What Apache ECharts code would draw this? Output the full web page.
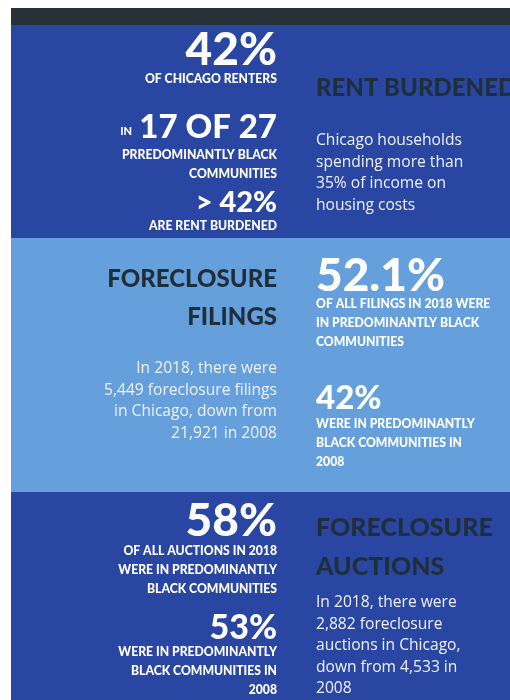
<!DOCTYPE html>
<html>
<head>
<meta charset="utf-8">
<script src="https://cdn.jsdelivr.net/npm/echarts@6/dist/echarts.min.js"></script>
<style>
  html, body { margin: 0; padding: 0; background: #fff; }
  #chart { width: 510px; height: 700px; }
</style>
</head>
<body>
<div id="chart"></div>
<script>
// figures shown in the infographic
const sectionTitles = ["RENT BURDENED", "FORECLOSURE\nFILINGS", "FORECLOSURE\nAUCTIONS"];
const renterShare = [42];            // % of Chicago renters
const communityCount = [17, 27];     // 17 of 27 communities
const communityShare = [42];         // > 42% rent burdened
const filingShare = [52.1, 42];      // 2018, 2008
const filingCounts = [5449, 21921];  // 2018, 2008
const auctionShare = [58, 53];       // 2018, 2008
const auctionCounts = [2882, 4533];  // 2018, 2008
const rentThreshold = [35];          // % of income

const fmt = n => n.toLocaleString("en-US");

const DARK = "#263238";
const BLUE = "#2a46a3";
const LIGHT = "#66a0dc";
const HEAD = "#1f2f3a";
const HEAVY = "Lato";
const BODY = "'Open Sans'";

const L = 277, R = 316;

function t(text, x, y, size, opts) {
  opts = opts || {};
  return {
    type: "text",
    z: 10,
    style: {
      text: text,
      x: x,
      y: y,
      fill: opts.color || "#fff",
      font: (opts.weight || 900) + " " + size + "px " + (opts.family || HEAVY),
      textAlign: opts.align || "right",
      textVerticalAlign: "middle",
      lineHeight: opts.lh
    }
  };
}
function body(text, x, y, align) {
  return t(text, x, y, 15.6, { weight: 400, family: BODY, color: "#eef1f8", align: align, lh: 21.5 });
}
function small(text, x, y, align) {
  return t(text, x, y, 12.2, { weight: 900, align: align, lh: 19 });
}

const chart = echarts.init(document.getElementById("chart"));
const elements = [
  { type: "rect", shape: { x: 11, y: 8, width: 499, height: 17 }, style: { fill: DARK } },
  { type: "rect", shape: { x: 11, y: 25, width: 499, height: 213 }, style: { fill: BLUE } },
  { type: "rect", shape: { x: 11, y: 238, width: 499, height: 254 }, style: { fill: LIGHT } },
  { type: "rect", shape: { x: 11, y: 492, width: 499, height: 208 }, style: { fill: BLUE } },

  // band 1
  t(renterShare[0] + "%", L, 50, 46),
  small("OF CHICAGO RENTERS", L, 79),
  t("IN", 132, 131, 11),
  t(communityCount[0] + " OF " + communityCount[1], L, 127, 33),
  small("PRREDOMINANTLY BLACK\nCOMMUNITIES", L, 165),
  t("> " + communityShare[0] + "%", L, 203, 29),
  small("ARE RENT BURDENED", L, 226),
  t(sectionTitles[0], R, 88, 24, { color: HEAD, align: "left" }),
  body("Chicago households\nspending more than\n" + rentThreshold[0] + "% of income on\nhousing costs", R, 173, "left"),

  // band 2
  t(sectionTitles[1], L, 298, 24, { color: HEAD, lh: 38 }),
  body("In 2018, there were\n" + fmt(filingCounts[0]) + " foreclosure filings\nin Chicago, down from\n" + fmt(filingCounts[1]) + " in 2008", L, 401, "right"),
  t(filingShare[0] + "%", R, 276, 46, { align: "left" }),
  small("OF ALL FILINGS IN 2018 WERE\nIN PREDOMINANTLY BLACK\nCOMMUNITIES", R, 323, "left"),
  t(filingShare[1] + "%", R, 398, 33, { align: "left" }),
  small("WERE IN PREDOMINANTLY\nBLACK COMMUNITIES IN\n2008", R, 443, "left"),

  // band 3
  t(auctionShare[0] + "%", L, 521, 46),
  small("OF ALL AUCTIONS IN 2018\nWERE IN PREDOMINANTLY\nBLACK COMMUNITIES", L, 570),
  t(auctionShare[1] + "%", L, 628, 34),
  small("WERE IN PREDOMINANTLY\nBLACK COMMUNITIES IN\n2008", L, 671),
  t(sectionTitles[2], R, 547, 25, { color: HEAD, align: "left", lh: 39 }),
  body("In 2018, there were\n" + fmt(auctionCounts[0]) + " foreclosure\nauctions in Chicago,\ndown from " + fmt(auctionCounts[1]) + " in\n2008", R, 646, "left")
];

chart.setOption({
  animation: false,
  graphic: { elements: elements }
});
window.addEventListener("resize", () => chart && chart.resize());
</script>
</body>
</html>
